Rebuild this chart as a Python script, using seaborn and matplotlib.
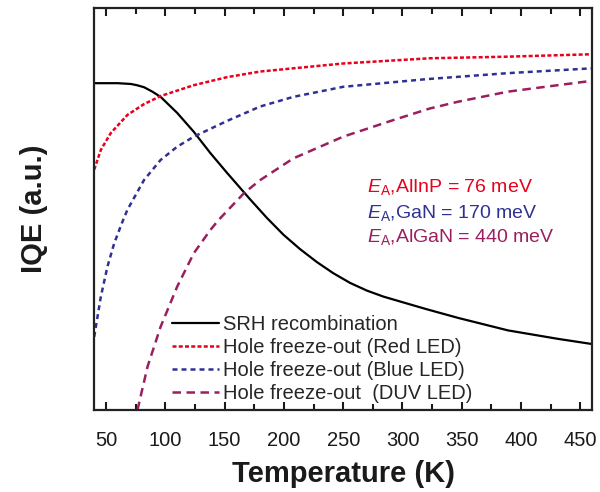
import numpy as np
import pandas as pd
import matplotlib
matplotlib.use("Agg")
import matplotlib.pyplot as plt
import seaborn as sns

# Values (IQE in arbitrary units, 0 = bottom, 1 = top)
temp_srh = [40, 60, 71, 76, 82, 89, 96, 110, 124, 138, 152, 171.5, 185.6, 199.6,
            213.7, 227.8, 241.8, 255.9, 270, 284, 306, 320, 347, 389, 431, 460]
iqe_srh = [0.813, 0.813, 0.811, 0.808, 0.803, 0.792, 0.779, 0.739, 0.692, 0.639,
           0.590, 0.524, 0.478, 0.436, 0.400, 0.368, 0.340, 0.316, 0.297, 0.282,
           0.263, 0.251, 0.229, 0.198, 0.177, 0.164]

temp_red = [40, 45.6, 54, 68, 82, 96, 124, 152, 180, 250, 323, 389, 460]
iqe_red = [0.598, 0.647, 0.689, 0.734, 0.761, 0.781, 0.808, 0.828, 0.842, 0.862,
           0.875, 0.879, 0.885]

temp_blue = [40, 41.4, 45.6, 51.2, 56.9, 63.9, 68, 82, 96, 110, 124, 152, 180,
             208, 250, 320, 389, 460]
iqe_blue = [0.182, 0.207, 0.282, 0.357, 0.415, 0.469, 0.498, 0.572, 0.622, 0.655,
            0.680, 0.719, 0.755, 0.779, 0.804, 0.823, 0.838, 0.850]

temp_duv = [76.5, 85, 96, 110, 124, 138, 145, 166.5, 180, 208, 250, 292, 323,
            347, 389, 431, 460]
iqe_duv = [0.000, 0.108, 0.207, 0.307, 0.390, 0.448, 0.473, 0.540, 0.572, 0.626,
           0.680, 0.721, 0.750, 0.767, 0.792, 0.808, 0.819]

c_red = "#e8001c"
c_blue = "#2e3192"
c_duv = "#9b1f5e"

sns.set_style("ticks")
plt.rcParams["font.family"] = ["Liberation Sans", "DejaVu Sans"]
plt.rcParams["mathtext.fontset"] = "custom"
plt.rcParams["mathtext.rm"] = "Liberation Sans"
plt.rcParams["mathtext.it"] = "Liberation Sans:italic"

fig = plt.figure(figsize=(6, 4.92), dpi=100)
ax = fig.add_axes([0.157, 0.1667, 0.83, 0.817])

sns.lineplot(x=temp_srh, y=iqe_srh, color="black", linewidth=1.6,
             label="SRH recombination", ax=ax)
sns.lineplot(x=temp_red, y=iqe_red, color=c_red, linewidth=1.8,
             linestyle=(0, (1.6, 0.9)), label="Hole freeze-out (Red LED)", ax=ax)
sns.lineplot(x=temp_blue, y=iqe_blue, color=c_blue, linewidth=1.8,
             linestyle=(0, (2.0, 1.6)), label="Hole freeze-out (Blue LED)", ax=ax)
sns.lineplot(x=temp_duv, y=iqe_duv, color=c_duv, linewidth=1.8,
             linestyle=(0, (3.4, 2.2)), label="Hole freeze-out  (DUV LED)", ax=ax)

ax.set_xlim(40, 460)
ax.set_ylim(0, 1)
ax.set_xticks(np.arange(50, 451, 50))
ax.set_xticks(np.arange(75, 451, 50), minor=True)
ax.set_yticks([])
ax.tick_params(axis="x", which="both", direction="in", top=True, bottom=True,
               width=1.5, labelsize=14.5, pad=15, colors="#1a1a1a")
ax.tick_params(axis="x", which="major", length=6)
ax.tick_params(axis="x", which="minor", length=4)
for s in ax.spines.values():
    s.set_linewidth(1.6)
    s.set_color("#222222")

ax.set_xlabel("Temperature (K)", fontsize=21, fontweight="bold", labelpad=7.5,
              color="#1a1a1a")
ax.set_ylabel("IQE (a.u.)", fontsize=21, fontweight="bold", labelpad=33,
              color="#1a1a1a")

ax.text(0.548, 0.555, r"$\mathit{E}_{\mathrm{A}}$,AlInP = 76 meV", color=c_red,
        fontsize=14, transform=ax.transAxes, va="center")
ax.text(0.548, 0.49, r"$\mathit{E}_{\mathrm{A}}$,GaN = 170 meV", color=c_blue,
        fontsize=14, transform=ax.transAxes, va="center")
ax.text(0.548, 0.43, r"$\mathit{E}_{\mathrm{A}}$,AlGaN = 440 meV", color=c_duv,
        fontsize=14, transform=ax.transAxes, va="center")

ax.legend(loc="lower left", bbox_to_anchor=(0.157, 0.0175), frameon=False,
          fontsize=14.5, handlelength=2.3, handletextpad=0.2, labelspacing=0.2,
          borderpad=0, borderaxespad=0)

fig.savefig("out.png", dpi=100)
